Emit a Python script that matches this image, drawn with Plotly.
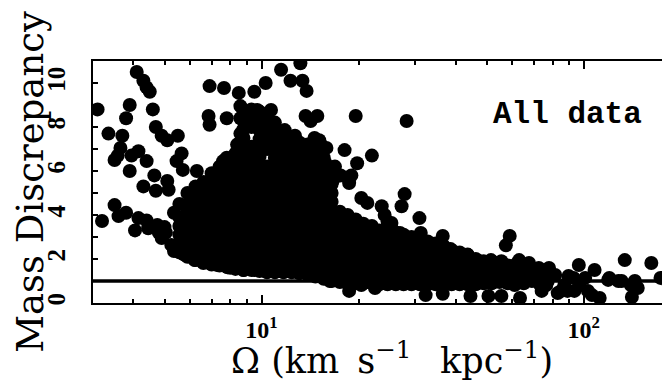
import math
import plotly.graph_objects as go

# ---- Data ----
# Dense core, listed column by column: Omega (km/s/kpc) of each column and the
# mass-discrepancy values of the points stacked in that column.
core_omega = [5.56, 5.89, 6.24, 6.61, 7.0, 7.41, 7.84, 8.30, 8.79, 9.31, 9.86,
              10.4, 11.0, 11.7, 12.4, 13.1, 13.9, 14.7, 15.6, 16.5, 17.5, 18.5,
              19.6, 20.7, 22.0, 23.2, 24.6, 26.1, 27.6, 29.2, 31.0, 32.8, 34.7,
              36.7, 38.9, 41.2, 43.6, 46.2, 48.9, 51.8, 54.8, 58.1, 61.5, 65.1,
              69.0, 73.0, 77.3]
core_md = [
    [2.3, 2.7, 3.1, 3.5, 3.9, 4.5],
    [2.1, 2.5, 2.9, 3.3, 3.7, 4.1, 4.5, 5.0],
    [1.95, 2.35, 2.75, 3.15, 3.55, 3.95, 4.35, 4.75, 5.3],
    [1.85, 2.25, 2.65, 3.05, 3.45, 3.85, 4.25, 4.65, 5.05, 5.5],
    [1.75, 2.15, 2.55, 2.95, 3.35, 3.75, 4.15, 4.55, 4.95, 5.35, 5.9],
    [1.7, 2.1, 2.5, 2.9, 3.3, 3.7, 4.1, 4.5, 4.9, 5.3, 5.7, 6.2],
    [1.62, 2.0, 2.4, 2.8, 3.2, 3.6, 4.0, 4.4, 4.8, 5.2, 5.6, 6.0, 6.5],
    [1.55, 1.95, 2.35, 2.75, 3.15, 3.55, 3.95, 4.35, 4.75, 5.15, 5.55, 5.95, 6.4, 6.8],
    [1.5, 1.9, 2.3, 2.7, 3.1, 3.5, 3.9, 4.3, 4.7, 5.1, 5.5, 5.9, 6.3, 6.7, 7.1, 7.5, 7.9, 8.3, 8.7],
    [1.5, 1.9, 2.3, 2.7, 3.1, 3.5, 3.9, 4.3, 4.7, 5.1, 5.5, 5.9, 6.3, 6.7, 7.1, 8.0, 8.4, 8.8],
    [1.45, 1.85, 2.25, 2.65, 3.05, 3.45, 3.85, 4.25, 4.65, 5.05, 5.45, 5.85, 6.25, 6.65, 7.05, 7.45, 7.85, 8.25, 8.7],
    [1.4, 1.8, 2.2, 2.6, 3.0, 3.4, 3.8, 4.2, 4.6, 5.0, 5.4, 5.8, 6.2, 7.0, 7.4, 7.8, 8.2, 8.6],
    [1.4, 1.8, 2.2, 2.6, 3.0, 3.4, 3.8, 4.2, 4.6, 5.0, 5.4, 5.8, 6.2, 6.6, 7.0, 7.4, 7.8, 8.2],
    [1.4, 1.8, 2.2, 2.6, 3.0, 3.4, 3.8, 4.2, 4.6, 5.0, 5.4, 5.8, 6.2, 6.6, 7.0, 7.4, 7.8],
    [1.4, 1.8, 2.2, 2.6, 3.0, 3.4, 3.8, 4.2, 4.6, 5.0, 5.4, 5.8, 6.2, 6.6, 7.0, 7.5],
    [1.35, 1.75, 2.15, 2.55, 2.95, 3.35, 3.75, 4.15, 4.55, 4.95, 5.35, 5.75, 6.15, 6.55, 6.95, 7.3],
    [1.3, 1.7, 2.1, 2.5, 2.9, 3.3, 3.7, 4.1, 4.5, 4.9, 5.3, 5.7, 6.1, 6.5, 6.9, 7.2],
    [1.2, 1.6, 2.0, 2.4, 2.8, 3.2, 3.6, 4.0, 4.4, 4.8, 5.2, 5.6, 6.0, 6.4, 6.9],
    [1.1, 1.5, 1.9, 2.3, 2.7, 3.1, 3.5, 3.9, 4.3, 4.7, 5.1, 5.5, 5.9, 6.3, 6.6],
    [1.0, 1.4, 1.8, 2.2, 2.6, 3.0, 3.4, 3.8, 4.2, 4.6, 5.0, 5.4, 5.8],
    [0.95, 1.35, 1.75, 2.15, 2.55, 2.95, 3.35, 3.75, 4.15],
    [0.9, 1.3, 1.7, 2.1, 2.5, 2.9, 3.3, 3.7, 4.0],
    [0.9, 1.3, 1.7, 2.1, 2.5, 2.9, 3.3, 3.8],
    [0.9, 1.3, 1.7, 2.1, 2.5, 2.9, 3.3, 3.6],
    [0.9, 1.3, 1.7, 2.1, 2.5, 2.9, 3.3, 3.5],
    [0.85, 1.25, 1.65, 2.05, 2.45, 2.85, 3.3],
    [0.85, 1.25, 1.65, 2.05, 2.45, 2.85, 3.2],
    [0.85, 1.25, 1.65, 2.05, 2.45, 2.85, 3.2],
    [0.85, 1.25, 1.65, 2.05, 2.45, 2.8, 3.1],
    [0.85, 1.25, 1.65, 2.05, 2.45, 2.8, 3.0],
    [0.85, 1.25, 1.65, 2.05, 2.45, 2.9],
    [0.85, 1.25, 1.65, 2.05, 2.45, 2.8],
    [0.85, 1.25, 1.65, 2.05, 2.4, 2.7],
    [0.85, 1.25, 1.65, 2.05, 2.4, 2.6],
    [0.85, 1.25, 1.65, 2.05, 2.4],
    [0.85, 1.25, 1.65, 2.0, 2.3],
    [0.85, 1.25, 1.65, 2.0, 2.2],
    [0.85, 1.25, 1.6, 2.0],
    [0.9, 1.3, 1.6, 1.9],
    [0.9, 1.3, 1.6, 1.9],
    [0.95, 1.3, 1.65],
    [0.9, 1.3, 1.7],
    [0.95, 1.35, 1.75],
    [0.9, 1.3, 1.6],
    [1.0, 1.35],
    [0.85, 1.3],
    [1.0, 1.4],
]

# Scattered points (outside the dense core)
scatter_omega = [
    4.1, 4.3, 4.4, 4.5, 3.1, 3.9, 4.6, 3.8, 4.7, 3.35, 3.7, 4.9, 5.1, 5.5,
    3.65, 3.58, 3.5, 4.15, 3.95, 4.4, 5.65, 5.45, 3.9, 4.65, 4.3, 4.7, 5.1,
    5.15, 5.7, 6.3, 6.9, 7.65, 6.85, 6.9, 7.8, 8.5, 7.6, 7.8, 8.4, 3.5, 3.2,
    3.6, 3.8, 5.35, 5.9,
    4.15, 4.05, 4.45, 4.8, 4.9, 5.25, 5.35, 5.75, 6.2, 6.6, 7.3, 8.0, 8.8, 9.5,
    4.4, 4.75, 5.05, 5.0,
    9.5, 10.3, 11.5, 13.2, 12.3, 13.4, 13.8, 13.7, 14.9, 14.2, 19.6, 8.6, 8.6,
    9.05, 9.7, 10.7, 8.6, 8.4, 11.8, 12.7, 11.9, 14.6, 15.3, 15.1, 15.9, 18.1,
    22.0, 19.8, 15.8, 16.9, 16.7, 17.6, 19.0, 18.7, 20.4, 21.3, 23.6, 24.1,
    24.6, 11.8,
    28.2, 27.8, 27.2, 25.3, 30.9, 31.2, 26.9, 36.5, 35.9, 38.6, 43.6, 47.5,
    51.5, 55.5, 58.9, 57.3, 63.0, 67.6, 72.5, 134, 162, 96.5, 108, 78, 81.5,
    89.7, 101, 120, 131, 144, 173, 183, 85, 93.5, 106, 112, 141, 76.5, 74,
    16.3, 18.7, 22.5, 32.3, 36.5, 44.5, 50.6, 55.5, 63.4, 20.4,
    97, 87, 93, 65, 70, 77, 61, 119, 128, 140, 147, 103, 89, 83,
]
scatter_md = [
    10.5, 10.1, 9.8, 9.6, 8.8, 9.0, 8.8, 8.4, 8.0, 7.7, 7.6, 7.6, 7.4, 7.6,
    7.05, 6.7, 6.5, 6.9, 6.7, 6.45, 6.8, 6.45, 6.0, 5.8, 5.3, 5.1, 5.55,
    5.15, 6.05, 6.0, 9.86, 9.77, 8.5, 8.1, 8.4, 9.55, 6.45, 6.6, 6.36, 4.45, 3.73,
    3.95, 4.1, 4.1, 3.95,
    3.86, 3.3, 3.4, 3.2, 2.95, 2.64, 2.36, 2.2, 1.95, 1.82, 1.73, 1.6, 1.5, 1.5,
    3.75, 3.55, 3.2, 3.45,
    9.6, 10.0, 10.6, 10.9, 10.1, 10.1, 9.64, 8.5, 8.5, 8.27, 8.5, 8.95, 8.4,
    8.6, 8.77, 8.77, 7.7, 7.2, 7.86, 7.6, 6.6, 7.5, 7.2, 7.4, 7.05, 6.95,
    6.7, 6.35, 6.36, 6.2, 5.6, 5.8, 5.8, 5.45, 4.77, 4.55, 4.4, 4.0,
    3.7, 6.7,
    8.27, 4.95, 4.4, 3.64, 3.86, 3.18, 3.18, 3.05, 2.7, 2.45, 2.18, 1.9,
    1.95, 1.9, 3.05, 2.62, 1.95, 1.82, 1.59, 1.95, 1.82, 1.73, 1.5, 1.59, 1.27,
    1.23, 1.14, 1.14, 1.0, 1.0, 1.14, 0.91, 0.55, 0.55, 0.36, 0.23, 0.27, 0.82, 0.55,
    1.0, 0.55, 0.68, 0.36, 0.42, 0.32, 0.32, 0.32, 0.23, 0.82,
    0.82, 0.82, 1.14, 1.27, 1.14, 1.0, 0.82, 1.05, 1.0, 0.82, 0.68, 0.55, 0.55, 0.45,
]

reference_md = 1.0                      # horizontal reference line
x_tick_values = [10, 100]
x_tick_text = ["10<sup>1</sup>", "10<sup>2</sup>"]
x_minor_values = [3, 4, 5, 6, 7, 8, 9, 20, 30, 40, 50, 60, 70, 80, 90, 200]
y_tick_values = [0, 2, 4, 6, 8, 10]

# ---- Build the figure ----
all_omega = [o for o, col in zip(core_omega, core_md) for _ in col] + scatter_omega
all_md = [v for col in core_md for v in col] + scatter_md

fig = go.Figure()
fig.add_trace(go.Scatter(
    x=all_omega, y=all_md, mode="markers",
    marker=dict(color="black", size=14, line=dict(width=0)),
    hoverinfo="skip", showlegend=False,
))
fig.add_trace(go.Scatter(
    x=[3, 196], y=[reference_md, reference_md], mode="lines",
    line=dict(color="black", width=3.5),
    hoverinfo="skip", showlegend=False,
))

xtickfont = dict(family="Liberation Serif", size=24, color="black", weight="bold")
ytickfont = dict(family="Liberation Serif", size=25, color="black", weight="bold")

fig.update_layout(
    width=670, height=380,
    margin=dict(l=85, r=0, t=53, b=85, autoexpand=False),
    paper_bgcolor="white", plot_bgcolor="white",
    xaxis=dict(
        type="log", range=[math.log10(3), math.log10(196)],
        tickmode="array", tickvals=x_tick_values, ticktext=x_tick_text,
        ticks="inside", ticklen=8, tickwidth=1.5, tickcolor="black",
        minor=dict(tickmode="array", tickvals=x_minor_values, ticks="inside",
                   ticklen=4, tickwidth=1.5, tickcolor="black", showgrid=False),
        showline=True, linecolor="black", linewidth=2, mirror="ticks",
        showgrid=False, zeroline=False, tickfont=xtickfont,
        ticklabelstandoff=4, automargin=False,
    ),
    yaxis=dict(
        range=[0, 11], tickmode="array", tickvals=y_tick_values,
        ticks="inside", ticklen=5, tickwidth=1.5, tickcolor="black",
        minor=dict(dtick=1, ticks="inside", ticklen=5, tickwidth=1.5,
                   tickcolor="black", showgrid=False),
        showline=True, linecolor="black", linewidth=2, mirror="ticks",
        showgrid=False, zeroline=False, tickfont=ytickfont, tickangle=-90,
        ticklabelstandoff=16, automargin=False,
    ),
    annotations=[
        dict(text="All data", xref="paper", yref="paper", x=0.811, y=0.777,
             xanchor="center", yanchor="middle", showarrow=False,
             font=dict(family="Liberation Mono", size=31, color="black", weight="bold")),
        dict(text="Mass Discrepancy", xref="paper", yref="paper", x=-0.108, y=0.5,
             xanchor="center", yanchor="middle", textangle=-90, showarrow=False,
             font=dict(family="DejaVu Serif", size=37, color="black")),
        dict(text="Ω (km\u2009 s<sup>−1</sup>\u2002 kpc<sup>−1</sup>)", xref="paper", yref="paper",
             x=0.511, y=-0.229, xanchor="center", yanchor="middle", showarrow=False,
             font=dict(family="DejaVu Serif", size=35, color="black")),
    ],
)

fig.write_html("out.html")
